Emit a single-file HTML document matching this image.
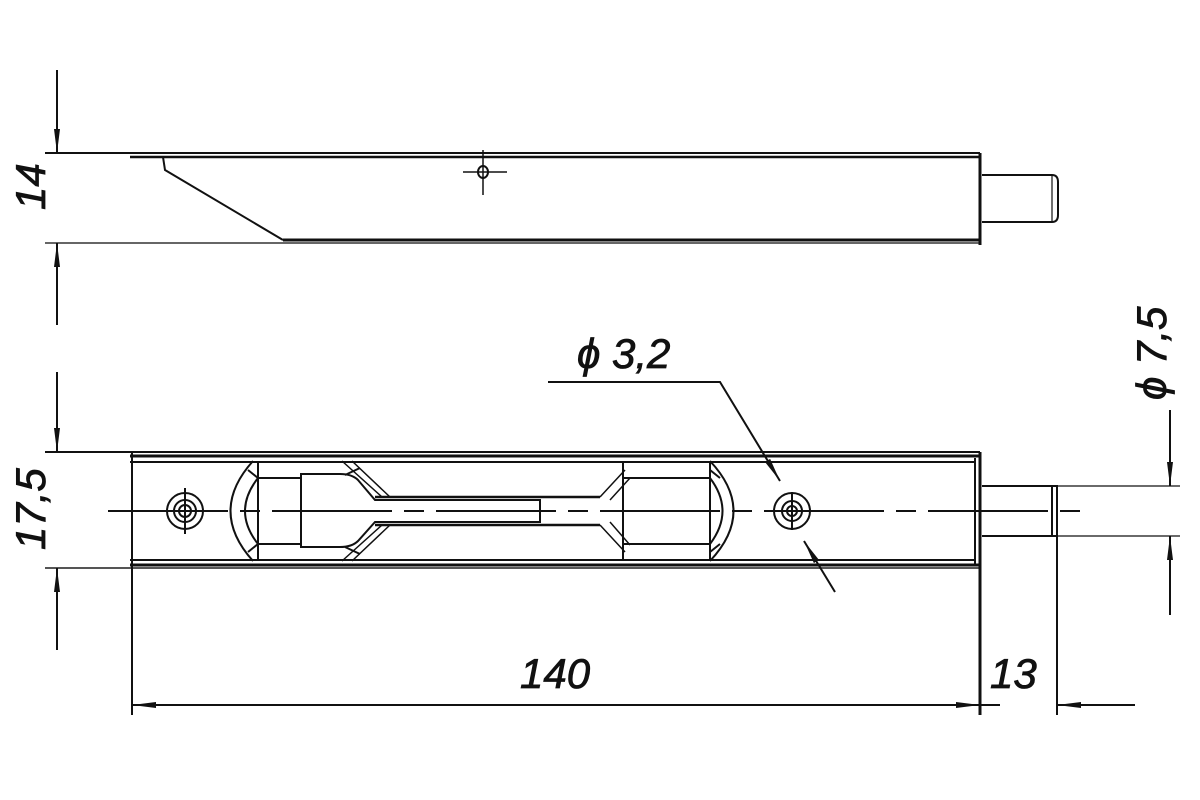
<!DOCTYPE html>
<html><head><meta charset="utf-8"><style>body{margin:0;background:#fff}svg{display:block}text{font-family:"Liberation Sans",sans-serif;font-style:italic;fill:#111}</style></head><body>
<svg width="1200" height="800" viewBox="0 0 1200 800" xmlns="http://www.w3.org/2000/svg">
<defs>
<marker id="a" markerWidth="24" markerHeight="8" refX="24" refY="4" orient="auto" markerUnits="userSpaceOnUse"><path d="M0,1 L24,4 L0,7 Z" fill="#111"/></marker>
</defs>
<g stroke="#111" fill="none" stroke-width="2">
<!-- top view -->
<line x1="45" y1="153" x2="980" y2="153"/>
<line x1="130" y1="157" x2="980" y2="157" stroke-width="2.5"/>
<polyline points="163,157 165,170 283,240"/>
<line x1="283" y1="240" x2="980" y2="240" stroke-width="3"/>
<line x1="45" y1="243" x2="980" y2="243" stroke="#666"/>
<line x1="980" y1="153" x2="980" y2="245" stroke-width="3"/>
<path d="M982,175 H1052 Q1058,175 1058,182 V215 Q1058,222 1052,222 H982"/>
<line x1="1052" y1="175" x2="1052" y2="222" stroke-width="1.2"/>
<line x1="483" y1="150" x2="483" y2="195" stroke-width="1.5"/>
<line x1="463" y1="172" x2="507" y2="172" stroke-width="1.5"/>
<ellipse cx="483" cy="172" rx="5" ry="6"/>
<!-- 14 dim -->
<line x1="57" y1="70" x2="57" y2="153" marker-end="url(#a)"/>
<line x1="57" y1="325" x2="57" y2="243" marker-end="url(#a)"/>
<!-- bottom view -->
<line x1="45" y1="452" x2="980" y2="452"/>
<line x1="130" y1="456" x2="980" y2="456" stroke-width="3"/>
<line x1="130" y1="462" x2="975" y2="462"/>
<line x1="130" y1="560" x2="975" y2="560"/>
<line x1="130" y1="565" x2="980" y2="565" stroke-width="3"/>
<line x1="45" y1="568" x2="980" y2="568" stroke="#555"/>
<line x1="132" y1="452" x2="132" y2="715"/>
<line x1="975" y1="458" x2="975" y2="566"/>
<line x1="980" y1="452" x2="980" y2="715" stroke-width="3"/>
<line x1="108" y1="511" x2="1080" y2="511" stroke-dasharray="120,12,20,12"/>
<!-- left hole -->
<circle cx="185" cy="511" r="18"/><circle cx="185" cy="511" r="11"/><circle cx="185" cy="511" r="6"/>
<line x1="185" y1="488" x2="185" y2="534"/>
<!-- left arc piece -->
<path d="M253,461 Q208,511 253,561"/>
<path d="M258,478 Q232,511 258,544"/>
<line x1="258" y1="461" x2="258" y2="561"/>
<line x1="248" y1="470" x2="258" y2="478"/><line x1="248" y1="552" x2="258" y2="544"/>
<line x1="258" y1="478" x2="300" y2="478"/><line x1="258" y1="544" x2="300" y2="544"/>
<!-- slider -->
<path d="M301,474 H340 Q352,474 358,480 L375,500 H540 V522 H375 L358,541 Q352,547 340,547 H301 Z"/>
<path d="M342,461 L382,497 M352,461 L390,497 M342,561 L382,525 M352,561 L390,525" stroke-width="1.5"/>
<line x1="345" y1="475" x2="360" y2="468"/><line x1="345" y1="547" x2="360" y2="554"/>
<line x1="375" y1="497" x2="600" y2="497" stroke-width="2.5"/>
<line x1="375" y1="525" x2="600" y2="525" stroke-width="2.5"/>
<!-- right fork -->
<path d="M600,497 L625,470 M610,500 L630,478 M600,525 L625,552 M610,522 L630,545" stroke-width="1.5"/>
<line x1="623" y1="461" x2="623" y2="561"/>
<line x1="623" y1="478" x2="710" y2="478"/><line x1="623" y1="544" x2="710" y2="544"/>
<path d="M710,461 Q757,511 710,561"/>
<path d="M710,478 Q735,511 710,544"/>
<line x1="710" y1="461" x2="710" y2="561"/>
<line x1="710" y1="470" x2="720" y2="478"/><line x1="710" y1="552" x2="720" y2="544"/>
<!-- right hole -->
<circle cx="792" cy="511" r="18"/><circle cx="792" cy="511" r="10"/><circle cx="792" cy="511" r="5"/>
<line x1="792" y1="492" x2="792" y2="530"/>
<!-- pin -->
<path d="M982,486 H1057 V536 H982"/>
<line x1="1052" y1="486" x2="1052" y2="536"/>
<line x1="1057" y1="486" x2="1180" y2="486" stroke-width="1.2"/>
<line x1="1057" y1="536" x2="1180" y2="536" stroke-width="1.2"/>
<line x1="1057" y1="536" x2="1057" y2="715"/>
<!-- 17.5 dim -->
<line x1="57" y1="372" x2="57" y2="452" marker-end="url(#a)"/>
<line x1="57" y1="650" x2="57" y2="568" marker-end="url(#a)"/>
<!-- 7.5 dim -->
<line x1="1170" y1="410" x2="1170" y2="486" marker-end="url(#a)"/>
<line x1="1170" y1="615" x2="1170" y2="536" marker-end="url(#a)"/>
<!-- 140 -->
<line x1="555" y1="705" x2="132" y2="705" marker-end="url(#a)"/>
<line x1="555" y1="705" x2="980" y2="705" marker-end="url(#a)"/>
<line x1="1135" y1="705" x2="1057" y2="705" marker-end="url(#a)"/>
<line x1="980" y1="705" x2="1000" y2="705"/>
<!-- 3.2 leader -->
<polyline points="548,382 720,382 780,481" marker-end="url(#a)"/>
<line x1="835" y1="592" x2="804" y2="541" marker-end="url(#a)"/>
</g>
<g stroke="#111" stroke-width="0.8">
<text x="520" y="688" font-size="42">140</text>
<text x="990" y="688" font-size="42">13</text>
<text x="577" y="368" font-size="42">ϕ 3,2</text>
<text transform="translate(45,210) rotate(-90)" font-size="42">14</text>
<text transform="translate(45,550) rotate(-90)" font-size="42">17,5</text>
<text transform="translate(1166,400) rotate(-90)" font-size="42">ϕ 7,5</text>
</g>
</svg>
</body></html>
